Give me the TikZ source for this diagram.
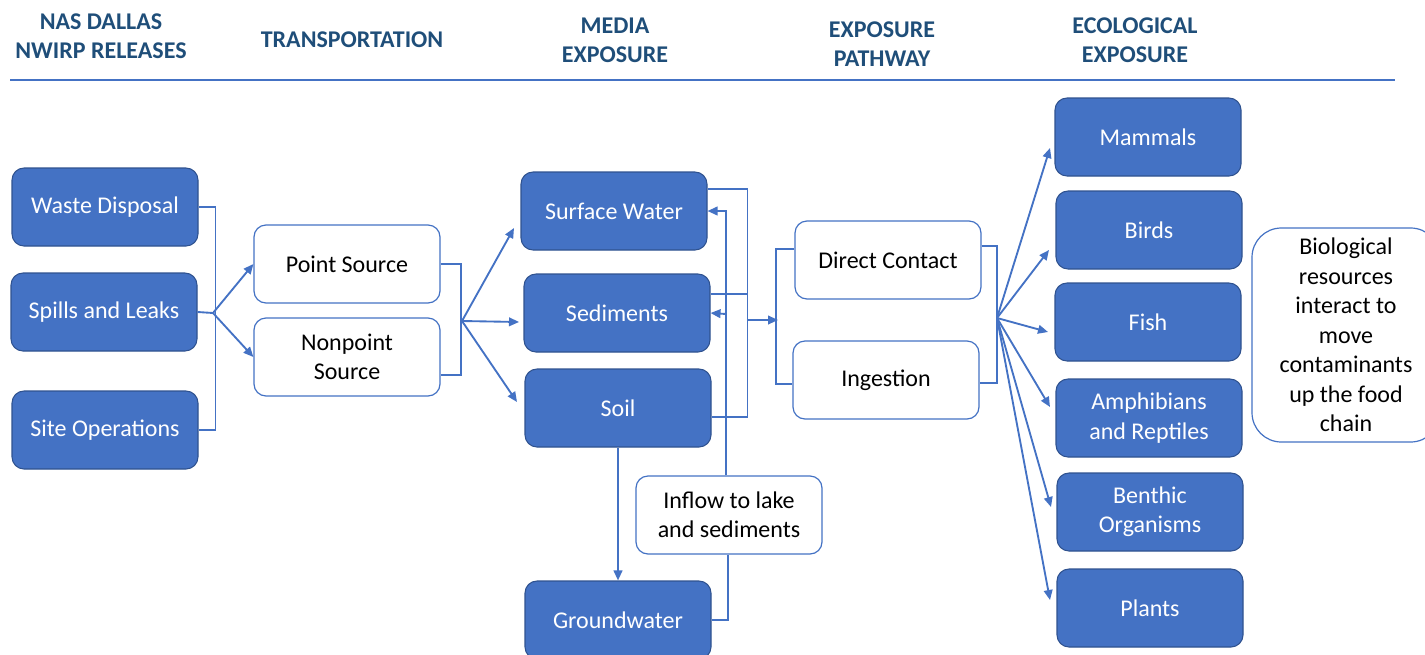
\documentclass[tikz,border=0pt]{standalone}
\usepackage{fontspec}
\setmainfont{Carlito}
\usetikzlibrary{arrows.meta,calc}
\definecolor{boxblue}{HTML}{4472C4}
\definecolor{boxedge}{HTML}{2F528F}
\definecolor{headblue}{HTML}{1F4E79}
\definecolor{lineblue}{HTML}{4472C4}
\tikzset{
  base/.style={align=center,font=\fontsize{18}{22}\selectfont,inner sep=2pt},
  fillbox/.style={base,rectangle,rounded corners=9pt,fill=boxblue,draw=boxedge,line width=0.8pt,text=white,minimum width=139.5pt,minimum height=58.5pt},
  whitebox/.style={base,rectangle,rounded corners=9pt,fill=white,draw=lineblue,line width=0.9pt,text=black,minimum width=139.5pt,minimum height=58.5pt},
  head/.style={align=center,font=\fontsize{18}{21.75}\selectfont\bfseries,text=headblue},
  conn/.style={draw=lineblue,line width=1.4pt},
  arr/.style={conn,-{Triangle[length=7.5pt,width=6.5pt]}}
}
\begin{document}
\begin{tikzpicture}[x=0.75pt,y=-0.75pt]
\useasboundingbox (0,0) rectangle (1425,654);
% headers
\node[head] (h1) at (101,36) {NAS DALLAS\\NWIRP RELEASES};
\node[head] (h2) at (352,40) {TRANSPORTATION};
\node[head] (h3) at (615,40) {MEDIA\\EXPOSURE};
\node[head] (h4) at (882,44) {EXPOSURE\\PATHWAY};
\node[head] (h5) at (1135,40) {ECOLOGICAL\\EXPOSURE};
\coordinate (hl1) at (10,80);
\coordinate (hl2) at (1395,80);
\draw[draw=lineblue,line width=2.2pt] (hl1) -- (hl2);
% releases
\node[fillbox] (wd) at (105,207) {Waste Disposal};
\node[fillbox] (sl) at (104,312) {Spills and Leaks};
\node[fillbox] (so) at (105,430) {Site Operations};
% transportation
\node[whitebox] (ps) at (347,264) {Point Source};
\node[whitebox] (nps) at (347,357) {Nonpoint\\Source};
% media
\node[fillbox] (sw) at (614,211) {Surface Water};
\node[fillbox] (sed) at (617,313) {Sediments};
\node[fillbox] (soil) at (618,408) {Soil};
\node[fillbox] (gw) at (618,620) {Groundwater};
\node[whitebox] (inf) at (729,515) {Inflow to lake\\and sediments};
% pathway
\node[whitebox] (dc) at (888,260) {Direct Contact};
\node[whitebox] (ing) at (886,380) {Ingestion};
% ecological
\node[fillbox] (mam) at (1148,137) {Mammals};
\node[fillbox] (bird) at (1149,230) {Birds};
\node[fillbox] (fish) at (1148,322) {Fish};
\node[fillbox] (amph) at (1149,418) {Amphibians\\and Reptiles};
\node[fillbox] (ben) at (1150,512) {Benthic\\Organisms};
\node[fillbox] (pl) at (1150,608) {Plants};
\node[whitebox,rounded corners=22pt,minimum width=141pt,minimum height=160.5pt,font=\fontsize{18}{22.1}\selectfont] (bio) at (1346,335) {Biological\\resources\\interact to\\move\\contaminants\\up the food\\chain};
% release bracket
\coordinate (j1) at (213,313);
\draw[conn] (wd.east) -- ++(17,0) |- (so.east);
\draw[conn] (sl.east) -- (j1);
\draw[arr] (j1) -- (ps.west);
\draw[arr] (j1) -- (nps.west);
% transport bracket
\coordinate (j2) at (462,321);
\draw[conn] (ps.east) -- ++(20,0) |- ($(nps.east)+(0,18)$);
\coordinate (t1) at (514,228);
\coordinate (t2) at (519,322);
\coordinate (t3) at (517,402);
\draw[arr] (j2) -- (t1);
\draw[arr] (j2) -- (t2);
\draw[arr] (j2) -- (t3);
% media bracket
\coordinate (j3) at (747,320);
\coordinate (j3b) at (778,320);
\draw[conn] ($(sw.east)+(0,-22)$) -- ++(40,0) |- ($(soil.east)+(0,9)$);
\draw[conn] ($(sed.east)+(0,-19)$) -- ++(37,0);
\draw[arr] (j3) -- (j3b);
% pathway left bracket
\draw[conn] ($(dc.west)+(0,-11)$) -- ++(-18,0) |- ($(ing.west)+(0,4)$);
% inflow
\coordinate (k) at (726,314);
\draw[arr] ($(inf.north)+(-3,0)$) |- (sw.east);
\draw[arr] (k) -- (sed.east);
\draw[conn] (gw.east) -| ($(inf.south)+(-1,0)$);
% soil to groundwater
\draw[arr] (soil.south) -- (gw.north);
% pathway right bracket
\draw[conn] ($(dc.east)+(0,-14)$) -- ++(15,0) |- ($(ing.east)+(0,3)$);
\coordinate (j4) at (997,318);
\coordinate (e1) at (1050,148);
\coordinate (e2) at (1049,250);
\coordinate (e3) at (1048,332);
\coordinate (e4) at (1050,407);
\coordinate (e5) at (1051,507);
\coordinate (e6) at (1050,600);
\foreach \e in {e1,e2,e3,e4,e5,e6} \draw[arr] (j4) -- (\e);
\end{tikzpicture}
\end{document}
